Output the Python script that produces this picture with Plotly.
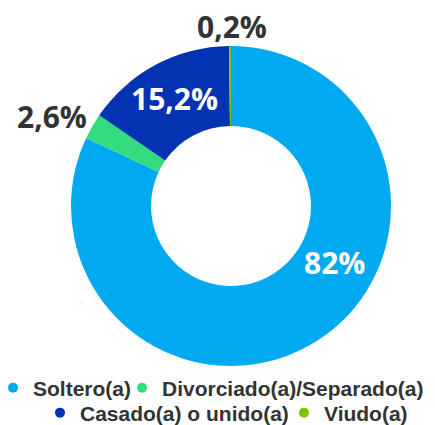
import math
import plotly.graph_objects as go

categories = ["Soltero(a)", "Divorciado(a)/Separado(a)", "Casado(a) o unido(a)", "Viudo(a)"]
values = [82.0, 2.6, 15.2, 0.2]
value_labels = ["82%", "2,6%", "15,2%", "0,2%"]
colors = ["#00A9F0", "#33DD7F", "#0333B2", "#7DC300"]

# page body has an 8px margin, so the figure is drawn 8px from the window edge
OFF = 8
W, H = 435 - OFF, 425 - OFF
CX, CY, R = 231 - OFF, 206 - OFF, 160          # pie centre / radius in figure px
HOLE = 0.5

fig = go.Figure()
fig.add_trace(go.Pie(
    labels=categories, values=values, textinfo="none",
    hole=HOLE, sort=False, direction="clockwise", rotation=0,
    marker=dict(colors=colors, line=dict(width=0)),
    domain=dict(x=[(CX - R) / W, (CX + R) / W], y=[(H - CY - R) / H, (H - CY + R) / H]),
    showlegend=False, hoverinfo="label+percent",
))

# one legend per entry: (text start x, row centre y) in window px
legend_names = ["legend", "legend2", "legend3", "legend4"]
legend_text_x = [31, 160, 78, 322]
legend_row_y = [388, 388, 413, 413]
for c, col, lg in zip(categories, colors, legend_names):
    fig.add_trace(go.Scatter(x=[None], y=[None], mode="markers", name=c, legend=lg,
                             marker=dict(color=col, size=10, symbol="circle")))


def px_to_paper(x, y):
    return x / W, (H - y) / H


total = sum(values)
cum = 0.0
mid_angles = []
for v in values:
    mid_angles.append((cum + v / 2) / total * 360.0)
    cum += v

# value labels: placed around each slice's mid-angle (deg offset, radius factor)
label_angle_offset = [-29.0, -3.3, 0.2, 0.8]
label_radius = [0.74, 1.25, 0.76, 1.125]
label_colors = ["white", "#333333", "white", "#333333"]
for i, txt in enumerate(value_labels):
    a = math.radians(mid_angles[i] + label_angle_offset[i])
    rr = R * label_radius[i]
    x, y = px_to_paper(CX + math.sin(a) * rr, CY - math.cos(a) * rr)
    fig.add_annotation(x=x, y=y, xref="paper", yref="paper", text=txt,
                       showarrow=False, xanchor="center", yanchor="middle",
                       font=dict(family="Open Sans", size=30, color=label_colors[i],
                                 weight="bold"))

legend_font = dict(family="Liberation Sans", size=21, color="#333333", weight="bold")
layout_legends = {}
for lg, tx, ry in zip(legend_names, legend_text_x, legend_row_y):
    layout_legends[lg] = dict(
        orientation="h", x=(tx - OFF - 38) / W, xanchor="left",
        y=(H - (ry - OFF)) / H, yanchor="middle",
        font=legend_font, itemwidth=30, bgcolor="rgba(0,0,0,0)")

fig.update_layout(
    width=W, height=H, margin=dict(l=0, r=0, t=0, b=0, autoexpand=False),
    paper_bgcolor="white", plot_bgcolor="white",
    xaxis=dict(visible=False), yaxis=dict(visible=False),
    **layout_legends,
)
fig.write_html("out.html")
